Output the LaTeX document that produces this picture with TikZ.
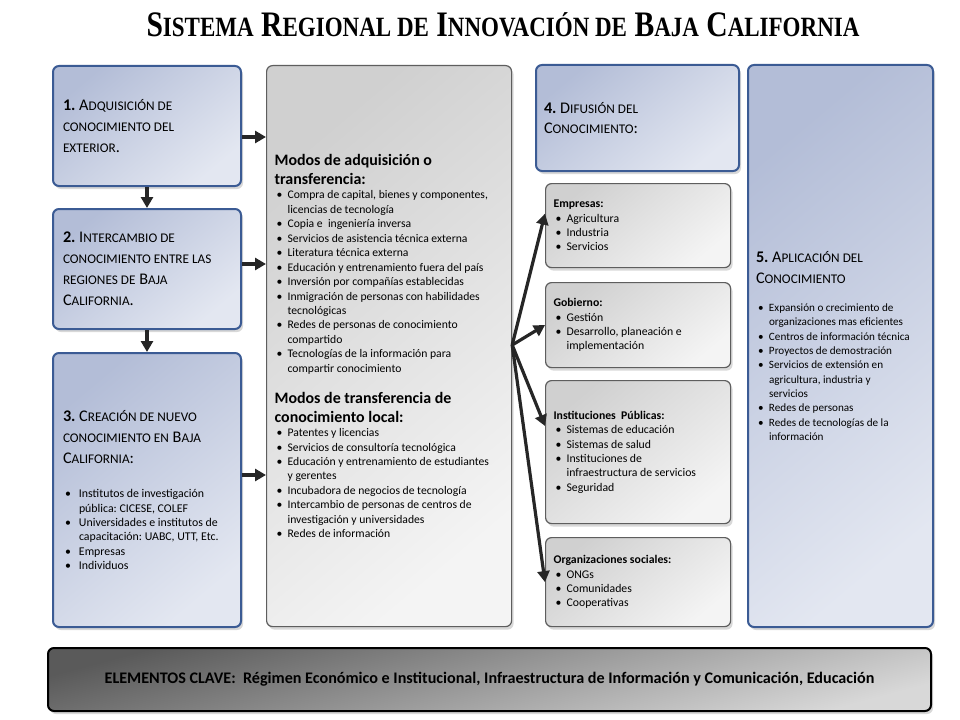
\documentclass[tikz,border=0pt]{standalone}
\usepackage{fontspec}
\usepackage{graphicx}
\setmainfont{Carlito}
\newfontfamily\titlefont{Liberation Serif}
\usetikzlibrary{arrows.meta,shadows,calc}

\definecolor{blueedge}{HTML}{3B5B94}
\definecolor{bluedark}{HTML}{B3BDD7}
\definecolor{bluelight}{HTML}{E3E7F1}
\definecolor{grayedge}{HTML}{5E5E5E}
\definecolor{graydark}{HTML}{D0D0D0}
\definecolor{graylight}{HTML}{F4F4F4}
\definecolor{bardark}{HTML}{5A5A5A}
\definecolor{barlight}{HTML}{D8D8D8}
\definecolor{arrowink}{HTML}{262626}

% hand made small caps, bullets and headings
\newcommand\scap[1]{{\fontsize{13.3}{21}\selectfont #1}}
\newcommand\tsc[1]{{\fontsize{28}{30}\selectfont #1}}
\newcommand\itm[1][13bp]{\par\hangindent=#1\hangafter=1\noindent\makebox[#1][l]{\hspace{2bp}\textbullet}\ignorespaces}
\newcommand\hd[1]{{\fontsize{16}{19}\selectfont\bfseries #1\par}}
\newcommand\nl{\newline}
\newcommand\plain{\raggedright\frenchspacing\spaceskip=0pt\xspaceskip=0pt}

\begin{document}
\begin{tikzpicture}[x=1bp, y=-1bp,
  bluebox/.style = {draw=blueedge, line width=2bp, rounded corners=6bp,
    top color=bluedark, bottom color=bluelight, shading angle=40,
    drop shadow={shadow xshift=2bp, shadow yshift=-3bp, opacity=.3},
    anchor=north west, inner xsep=10bp, execute at begin node=\plain,
    font=\fontsize{16.3}{21}\selectfont},
  graybox/.style = {draw=grayedge, line width=1.2bp, rounded corners=6bp,
    top color=graydark, bottom color=graylight, shading angle=40,
    drop shadow={shadow xshift=2bp, shadow yshift=-3bp, opacity=.3},
    anchor=north west, inner xsep=8bp, execute at begin node=\plain,
    font=\fontsize{11.8}{14.4}\selectfont},
  keybar/.style = {draw=black, line width=2bp, rounded corners=6bp,
    top color=bardark, bottom color=barlight, shading angle=15,
    drop shadow={shadow xshift=2bp, shadow yshift=-3bp, opacity=.3},
    anchor=north west, font=\fontsize{16.2}{19}\selectfont\bfseries},
  arr/.style = {draw=arrowink, line width=3.2bp, -{Triangle[length=11bp,width=12bp]}}]

\fill[white] (0,0) rectangle (960,720);
\useasboundingbox (0,0) rectangle (960,720);

% title
\node (titulo) at (503,25) {\scalebox{0.825}[1]{\titlefont\bfseries\fontsize{36}{40}\selectfont
  S\tsc{ISTEMA} R\tsc{EGIONAL DE} I\tsc{NNOVACIÓN DE} B\tsc{AJA} C\tsc{ALIFORNIA}}};

% left column
\node [bluebox, minimum width=188bp, minimum height=120bp, text width=168bp] (adq) at (52,65)
  {{\bfseries 1.} A\scap{DQUISICIÓN DE}\nl \scap{CONOCIMIENTO DEL}\nl \scap{EXTERIOR}.};
\node [bluebox, minimum width=188bp, minimum height=120bp, text width=168bp] (inter) at (52,208)
  {{\bfseries 2.} I\scap{NTERCAMBIO DE}\nl \scap{CONOCIMIENTO ENTRE LAS}\nl \scap{REGIONES DE} B\scap{AJA}\nl C\scap{ALIFORNIA}.};
\node [bluebox, minimum width=188bp, minimum height=274bp, text width=168bp] (crea) at (52,352)
  {{\bfseries 3.} C\scap{REACIÓN DE NUEVO}\nl \scap{CONOCIMIENTO EN} B\scap{AJA}\nl C\scap{ALIFORNIA}:\par
   \vspace{20bp}\fontsize{11.9}{14.4}\selectfont\plain
   \itm[16bp] Institutos de investigación\nl pública: CICESE, COLEF
   \itm[16bp] Universidades e institutos de\nl capacitación: UABC, UTT, Etc.
   \itm[16bp] Empresas
   \itm[16bp] Individuos\par};

% modes
\node [graybox, minimum width=245bp, minimum height=561bp, text width=229bp,
  font=\fontsize{11.7}{14.5}\selectfont] (modos) at (266,65)
  {\hd{Modos de adquisición o\nl transferencia:}
   \itm Compra de capital, bienes y componentes,\nl licencias de tecnología
   \itm Copia e~ ingeniería inversa
   \itm Servicios de asistencia técnica externa
   \itm Literatura técnica externa
   \itm Educación y entrenamiento fuera del país
   \itm Inversión por compañías establecidas
   \itm Inmigración de personas con habilidades\nl tecnológicas
   \itm Redes de personas de conocimiento\nl compartido
   \itm Tecnologías de la información para\nl compartir conocimiento\par
   \vspace{12bp}
   \hd{Modos de transferencia de\nl conocimiento local:}
   \itm Patentes y licencias
   \itm Servicios de consultoría tecnológica
   \itm Educación y entrenamiento de estudiantes\nl y gerentes
   \itm Incubadora de negocios de tecnología
   \itm Intercambio de personas de centros de\nl investigación y universidades
   \itm Redes de información\par};

% diffusion
\node [bluebox, minimum width=203bp, minimum height=106bp, text width=187bp, inner xsep=8bp] (difu) at (535,64)
  {{\bfseries 4.} D\scap{IFUSIÓN DEL}\nl C\scap{ONOCIMIENTO}:};
\node [graybox, minimum width=185bp, minimum height=84bp, text width=169bp] (emp) at (545,183)
  {{\bfseries Empresas:}
   \itm Agricultura
   \itm Industria
   \itm Servicios\par};
\node [graybox, minimum width=185bp, minimum height=85bp, text width=169bp] (gob) at (545,282)
  {{\bfseries Gobierno:}
   \itm Gestión
   \itm Desarrollo, planeación e\nl implementación\par};
\node [graybox, minimum width=185bp, minimum height=143bp, text width=169bp] (inst) at (545,380)
  {{\bfseries Instituciones~ Públicas:}
   \itm Sistemas de educación
   \itm Sistemas de salud
   \itm Instituciones de\nl infraestructura de servicios
   \itm Seguridad\par};
\node [graybox, minimum width=185bp, minimum height=89bp, text width=169bp] (org) at (545,537)
  {{\bfseries Organizaciones sociales:}
   \itm ONGs
   \itm Comunidades
   \itm Cooperativas\par};

% application
\node [bluebox, minimum width=185bp, minimum height=562bp, text width=169bp, inner xsep=8bp] (apli) at (747,64)
  {{\bfseries 5.} A\scap{PLICACIÓN DEL}\nl C\scap{ONOCIMIENTO}\par
   \vspace{14bp}\fontsize{11.2}{14.4}\selectfont\plain
   \itm Expansión o crecimiento de\nl organizaciones mas eficientes
   \itm Centros de información técnica
   \itm Proyectos de demostración
   \itm Servicios de extensión en\nl agricultura, industria y\nl servicios
   \itm Redes de personas
   \itm Redes de tecnologías de la\nl información\par};

% key elements
\node [keybar, minimum width=883bp, minimum height=63bp] (clave) at (47,647)
  {ELEMENTOS CLAVE:\ \ Régimen Económico e Institucional, Infraestructura de Información y Comunicación, Educación};

% connectors
\draw [arr] (adq) -- (inter);
\draw [arr] (inter) -- (crea);
\draw [arr] (adq.east |- 0,137) -- (modos.west |- 0,137);
\draw [arr] (inter.east |- 0,264) -- (modos.west |- 0,264);
\draw [arr] (crea.east |- 0,475) -- (modos.west |- 0,475);
\coordinate (fan) at (modos.east |- 0,345);
\draw [arr] (fan) -- ($(emp.west)+(0,-12)$);
\draw [arr] (fan) -- (gob.west);
\draw [arr] (fan) -- (inst.west |- 0,426);
\draw [arr] (fan) -- (org.west);
\end{tikzpicture}
\end{document}
